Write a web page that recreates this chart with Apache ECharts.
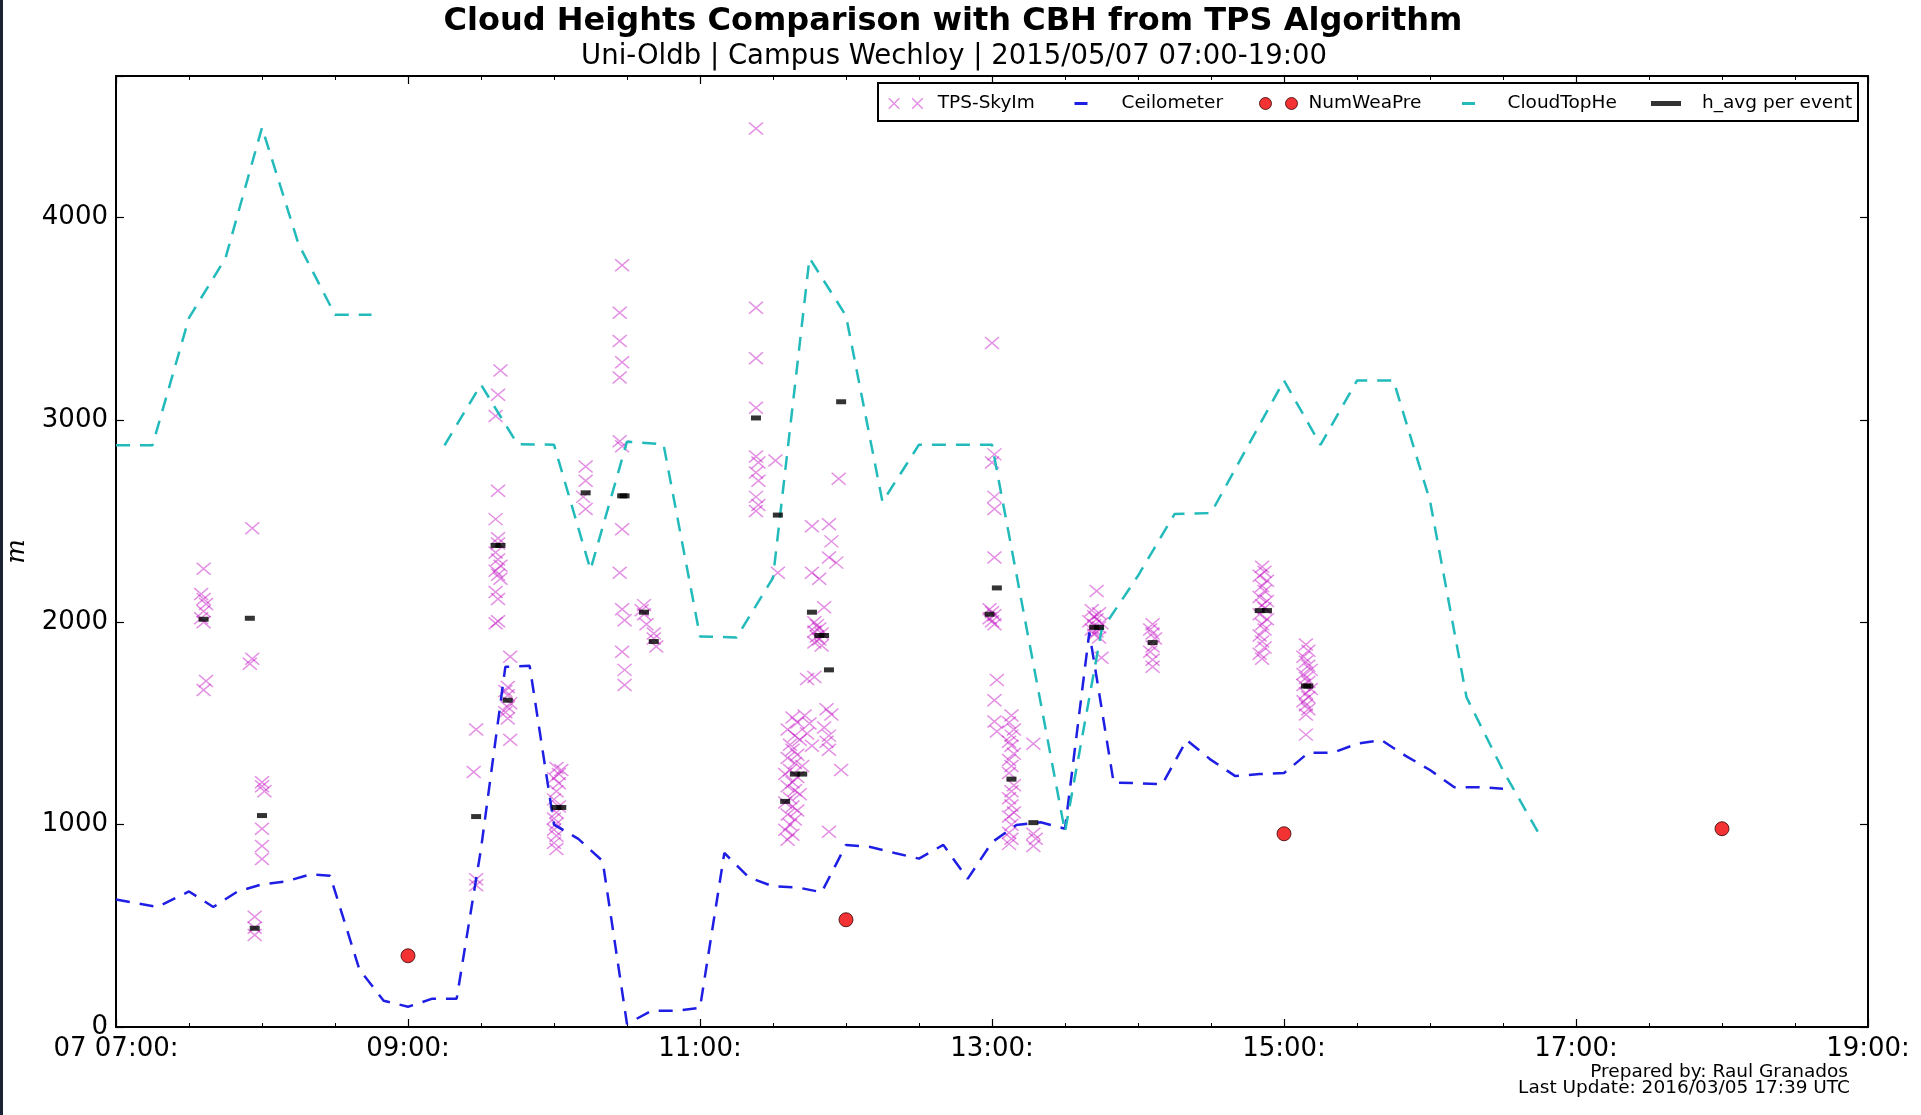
<!DOCTYPE html>
<html>
<head>
<meta charset="utf-8">
<title>Cloud Heights Comparison with CBH from TPS Algorithm</title>
<script src="https://cdn.jsdelivr.net/npm/echarts@6/dist/echarts.min.js"></script>
<style>
  html, body { margin: 0; padding: 0; background: #fff; }
  #chart { width: 1921px; height: 1115px; }
</style>
</head>
<body>
<div id="chart"></div>
<script>
// Times are clock times "HH:MM" on 2015/05/07, heights in metres.
const startHour = 7;
const hourTicks = ['07 07:00:', '09:00:', '11:00:', '13:00:', '15:00:', '17:00:', '19:00:'];
const heightTicks = [0, 1000, 2000, 3000, 4000];

// Ceilometer cloud base height
const ceilometer = [
  ['07:00', 630], ['07:17', 593], ['07:30', 670], ['07:40', 593], ['07:50', 670],
  ['08:00', 705], ['08:10', 720], ['08:20', 755], ['08:28', 748], ['08:40', 285],
  ['08:50', 130], ['09:00', 100], ['09:10', 140], ['09:20', 140], ['09:30', 880],
  ['09:40', 1780], ['09:50', 1785], ['10:00', 1000], ['10:10', 930], ['10:20', 820],
  ['10:30', 15], ['10:40', 80], ['10:50', 80], ['11:00', 95], ['11:10', 860],
  ['11:20', 740], ['11:30', 695], ['11:40', 690], ['11:50', 666], ['12:00', 900],
  ['12:10', 890], ['12:20', 860], ['12:30', 832], ['12:40', 900], ['12:50', 732],
  ['13:00', 913], ['13:10', 998], ['13:20', 1012], ['13:30', 980], ['13:40', 1950],
  ['13:50', 1207], ['14:00', 1205], ['14:10', 1200], ['14:20', 1418], ['14:30', 1320],
  ['14:40', 1240], ['14:50', 1250], ['15:00', 1255], ['15:10', 1355], ['15:20', 1355],
  ['15:30', 1400], ['15:40', 1418], ['15:50', 1340], ['16:00', 1270], ['16:10', 1185],
  ['16:20', 1185], ['16:30', 1178]
];

// Cloud top height (missing between the two runs)
const cloudTopHe = [
  ['07:00', 2875], ['07:15', 2875], ['07:30', 3505], ['07:45', 3800], ['08:00', 4445],
  ['08:15', 3870], ['08:30', 3520], ['08:45', 3520], ['09:00', null],
  ['09:15', 2875], ['09:30', 3175], ['09:45', 2880], ['10:00', 2878], ['10:15', 2260],
  ['10:30', 2893], ['10:45', 2880], ['11:00', 1930], ['11:15', 1925], ['11:30', 2220],
  ['11:45', 3800], ['12:00', 3515], ['12:15', 2595], ['12:30', 2878], ['13:00', 2878],
  ['13:30', 965], ['13:45', 1960], ['14:00', 2230], ['14:15', 2535], ['14:30', 2540],
  ['15:00', 3195], ['15:15', 2877], ['15:30', 3195], ['15:45', 3195], ['16:00', 2600],
  ['16:15', 1630], ['16:30', 1268], ['16:45', 950]
];

// Numerical weather prediction cloud base
const numWeaPre = [['09:00', 352], ['12:00', 530], ['15:00', 955], ['18:00', 980]];

// Cloud base heights from the sky imager pair (TPS algorithm)
const tpsSkyIm = [
  ['07:36', 2265], ['07:35', 2140], ['07:36', 2115], ['07:37', 2090], ['07:36', 2055],
  ['07:35', 2020], ['07:36', 2000], ['07:37', 1710], ['07:36', 1665],
  ['07:56', 2465], ['07:56', 1820], ['07:55', 1795],
  ['07:57', 545], ['07:57', 490], ['07:57', 455],
  ['08:00', 1210], ['08:00', 1190], ['08:01', 1165], ['08:00', 980], ['08:00', 895], ['08:00', 830],
  ['09:28', 1470], ['09:27', 1260], ['09:28', 730], ['09:28', 700],
  ['09:38', 3245], ['09:37', 3125], ['09:36', 3020], ['09:37', 2650], ['09:36', 2510],
  ['09:37', 2415], ['09:37', 2390], ['09:36', 2345], ['09:37', 2310], ['09:38', 2280],
  ['09:36', 2255], ['09:37', 2235], ['09:38', 2215], ['09:36', 2150], ['09:37', 2115],
  ['09:37', 2005], ['09:36', 1995],
  ['09:42', 1830], ['09:41', 1680], ['09:40', 1660], ['09:41', 1640], ['09:42', 1600],
  ['09:41', 1580], ['09:40', 1555], ['09:41', 1525], ['09:42', 1420],
  ['10:01', 1280], ['10:03', 1270], ['10:02', 1250], ['10:00', 1230], ['10:02', 1205],
  ['10:01', 1165], ['10:00', 1125], ['10:02', 1090], ['10:01', 1060], ['10:00', 1030],
  ['10:01', 1005], ['10:00', 975], ['10:01', 945], ['10:00', 910], ['10:01', 880],
  ['10:13', 2770], ['10:13', 2700], ['10:12', 2620], ['10:13', 2560],
  ['10:28', 3765], ['10:27', 3530], ['10:27', 3390], ['10:28', 3285], ['10:27', 3210],
  ['10:27', 2895], ['10:28', 2870], ['10:28', 2460], ['10:27', 2245], ['10:28', 2065],
  ['10:29', 2010], ['10:28', 1855], ['10:29', 1765], ['10:29', 1690],
  ['10:37', 2085], ['10:36', 2060], ['10:37', 2040], ['10:38', 1990],
  ['10:41', 1945], ['10:41', 1920], ['10:42', 1880],
  ['11:23', 4440], ['11:23', 3555], ['11:23', 3305], ['11:23', 3060], ['11:23', 2820],
  ['11:24', 2790], ['11:23', 2740], ['11:24', 2700], ['11:23', 2620], ['11:24', 2580],
  ['11:23', 2550],
  ['11:31', 2800], ['11:32', 2245],
  ['11:38', 1530], ['11:40', 1505], ['11:36', 1470], ['11:39', 1440], ['11:41', 1420],
  ['11:37', 1395], ['11:38', 1370], ['11:40', 1345], ['11:36', 1330], ['11:39', 1305],
  ['11:42', 1290], ['11:37', 1270], ['11:35', 1250], ['11:40', 1235], ['11:38', 1210],
  ['11:36', 1190], ['11:39', 1170], ['11:41', 1150], ['11:37', 1130], ['11:35', 1110],
  ['11:38', 1090], ['11:40', 1070], ['11:36', 1050], ['11:39', 1025], ['11:37', 1000],
  ['11:35', 975], ['11:38', 950], ['11:36', 925],
  ['11:46', 2475], ['11:46', 2245], ['11:49', 2215], ['11:51', 2075], ['11:47', 2000],
  ['11:48', 1985], ['11:49', 1970], ['11:47', 1955], ['11:50', 1945], ['11:48', 1930],
  ['11:49', 1915], ['11:47', 1900], ['11:50', 1885], ['11:44', 1720], ['11:47', 1730],
  ['11:43', 1540], ['11:45', 1500], ['11:44', 1450], ['11:46', 1390],
  ['11:53', 2485], ['11:54', 2400], ['11:53', 2320], ['11:56', 2295], ['11:52', 1570],
  ['11:54', 1545], ['11:51', 1480], ['11:53', 1440], ['11:52', 1410], ['11:53', 1370],
  ['11:53', 965],
  ['11:57', 2710], ['11:58', 1270],
  ['13:00', 3380], ['13:01', 2830], ['13:00', 2790], ['13:01', 2620], ['13:01', 2560],
  ['13:01', 2320], ['12:59', 2065], ['13:00', 2050], ['13:01', 2035], ['12:59', 2020],
  ['13:00', 2005], ['13:01', 1990], ['13:02', 1715], ['13:01', 1615], ['13:01', 1510],
  ['13:02', 1460],
  ['13:08', 1540], ['13:07', 1505], ['13:09', 1470], ['13:08', 1440], ['13:07', 1410],
  ['13:08', 1390], ['13:09', 1350], ['13:07', 1320], ['13:08', 1290], ['13:07', 1255],
  ['13:09', 1195], ['13:08', 1165], ['13:07', 1130], ['13:08', 1095], ['13:09', 1060],
  ['13:07', 1040], ['13:08', 1000], ['13:07', 960], ['13:08', 930], ['13:07', 905],
  ['13:17', 1400], ['13:17', 955], ['13:18', 930], ['13:17', 895],
  ['13:43', 2155], ['13:41', 2060], ['13:44', 2045], ['13:42', 2030], ['13:43', 2015],
  ['13:40', 2005], ['13:45', 1995], ['13:42', 1985], ['13:44', 1975], ['13:41', 1965],
  ['13:43', 1955], ['13:42', 1940], ['13:44', 1925], ['13:45', 1825],
  ['14:06', 1990], ['14:05', 1965], ['14:06', 1945], ['14:07', 1920], ['14:06', 1880],
  ['14:05', 1855], ['14:06', 1815], ['14:06', 1780],
  ['14:51', 2275], ['14:52', 2250], ['14:50', 2230], ['14:53', 2205], ['14:51', 2180],
  ['14:52', 2155], ['14:50', 2125], ['14:53', 2105], ['14:51', 2085], ['14:52', 2070],
  ['14:50', 2040], ['14:53', 2015], ['14:51', 1990], ['14:52', 1965], ['14:50', 1935],
  ['14:51', 1905], ['14:52', 1875], ['14:50', 1845], ['14:51', 1820],
  ['15:09', 1890], ['15:10', 1860], ['15:08', 1830], ['15:09', 1805], ['15:10', 1785],
  ['15:11', 1765], ['15:08', 1745], ['15:09', 1725], ['15:10', 1705], ['15:08', 1690],
  ['15:11', 1670], ['15:09', 1650], ['15:10', 1630], ['15:08', 1610], ['15:09', 1590],
  ['15:10', 1570], ['15:09', 1545], ['15:09', 1445]
];

// Mean height of each sky-imager event
const hAvgPerEvent = [
  ['07:36', 2015], ['07:55', 2020], ['07:57', 488], ['08:00', 1045],
  ['09:28', 1040], ['09:36', 2380], ['09:38', 2380], ['09:41', 1615],
  ['10:01', 1085], ['10:03', 1085], ['10:13', 2640], ['10:28', 2625], ['10:29', 2625],
  ['10:37', 2050], ['10:41', 1905], ['11:23', 3010], ['11:32', 2530],
  ['11:35', 1115], ['11:39', 1250], ['11:42', 1250], ['11:46', 2050],
  ['11:49', 1935], ['11:51', 1935], ['11:53', 1765], ['11:58', 3090],
  ['12:59', 2040], ['13:02', 2170], ['13:08', 1225], ['13:17', 1010],
  ['13:42', 1975], ['13:44', 1975], ['14:06', 1900], ['14:50', 2058], ['14:53', 2058],
  ['15:09', 1685], ['15:10', 1685]
];

// minutes after the start of the window
function toX(t) {
  const [h, m] = t.split(':').map(Number);
  return (h - startHour) * 60 + m;
}
function toPoints(rows) {
  return rows.map(([t, v]) => [toX(t), v === null ? '-' : v]);
}

const FONT = '"DejaVu Sans", "Liberation Sans", sans-serif';
const TPS_COLOR = 'rgba(191,0,191,0.55)';
const BLUE = '#1e1ee4';
const CYAN = '#22baba';
const RED = '#f00000';
const X_PATH = 'path://M0,0L10,10M10,0L0,10';
const X2_PATH = 'path://M0,0L10,10M10,0L0,10M22,0L32,10M32,0L22,10';
const DOT2_PATH = 'path://M0,6A6,6,0,1,1,12,6A6,6,0,1,1,0,6ZM26,6A6,6,0,1,1,38,6A6,6,0,1,1,26,6Z';

function legendText(pad) {
  return { fontFamily: FONT, fontSize: 18.5, color: '#000', lineHeight: 18, padding: [0, 0, 0, pad] };
}

const xAxisBase = {
  type: 'value', min: 0, max: (19 - startHour) * 60, interval: 120,
  axisLine: { show: true, onZero: false, lineStyle: { color: '#000', width: 2 } },
  axisTick: { show: true, inside: true, length: 8, lineStyle: { color: '#000', width: 1.2 } },
  minorTick: { show: true, splitNumber: 4, length: 4, lineStyle: { color: '#000', width: 1 } },
  splitLine: { show: false },
  minorSplitLine: { show: false }
};
const yAxisBase = {
  type: 'value', min: 0, max: 4700, interval: 1000,
  axisLine: { show: true, onZero: false, lineStyle: { color: '#000', width: 2 } },
  axisTick: { show: true, inside: true, length: 8, lineStyle: { color: '#000', width: 1.2 } },
  splitLine: { show: false }
};

const chart = echarts.init(document.getElementById('chart'), null, { renderer: 'canvas', width: 1921, height: 1115 });

chart.setOption({
  animation: false,
  backgroundColor: '#ffffff',
  grid: { left: 116, right: 53, top: 76, bottom: 88, containLabel: false, outerBoundsMode: 'none' },
  xAxis: [
    Object.assign({}, xAxisBase, {
      position: 'bottom',
      axisLabel: {
        color: '#000', fontFamily: FONT, fontSize: 26, margin: 9,
        formatter: v => hourTicks[v / 120] || ''
      }
    }),
    Object.assign({}, xAxisBase, { position: 'top', axisLabel: { show: false } })
  ],
  yAxis: [
    Object.assign({}, yAxisBase, {
      position: 'left',
      name: 'm', nameLocation: 'middle', nameGap: 86, nameRotate: 90,
      nameTextStyle: { fontFamily: '"DejaVu Serif", serif', fontStyle: 'italic', fontSize: 26, color: '#000' },
      axisLabel: {
        color: '#000', fontFamily: FONT, fontSize: 26, margin: 8,
        formatter: v => heightTicks.includes(v) ? String(v) : ''
      }
    }),
    Object.assign({}, yAxisBase, { position: 'right', axisLabel: { show: false } })
  ],
  legend: [
    { data: ['TPS-SkyIm'], left: 888, top: 94, padding: 0, selectedMode: false,
      icon: X2_PATH, itemWidth: 34, itemHeight: 11,
      itemStyle: { color: 'rgba(0,0,0,0)', borderColor: TPS_COLOR, borderWidth: 1.5 },
      textStyle: legendText(10) },
    { data: ['Ceilometer'], left: 1044, top: 94, padding: 0, selectedMode: false,
      itemWidth: 71, itemHeight: 10,
      lineStyle: { color: BLUE, width: 3, type: [0, 29, 13, 29] },
      itemStyle: { color: 'rgba(0,0,0,0)', borderWidth: 0, opacity: 0 },
      textStyle: legendText(0) },
    { data: ['NumWeaPre'], left: 1259, top: 94, padding: 0, selectedMode: false,
      icon: DOT2_PATH, itemWidth: 38, itemHeight: 12,
      itemStyle: { color: RED, borderColor: '#300', borderWidth: 1 },
      textStyle: legendText(6) },
    { data: ['CloudTopHe'], left: 1433, top: 94, padding: 0, selectedMode: false,
      itemWidth: 68, itemHeight: 10,
      lineStyle: { color: CYAN, width: 3, type: [0, 27.5, 13, 27.5] },
      itemStyle: { color: 'rgba(0,0,0,0)', borderWidth: 0, opacity: 0 },
      textStyle: legendText(0) },
    { data: ['h_avg per event'], left: 1651, top: 94, padding: 0, selectedMode: false,
      icon: 'rect', itemWidth: 30, itemHeight: 5,
      itemStyle: { color: '#000', borderWidth: 0 },
      textStyle: legendText(16) }
  ],
  graphic: [
    // thin dark edge on the left of the figure
    { type: 'rect', left: 0, top: 0, z: 10, shape: { width: 3, height: 1115 }, style: { fill: '#1c2233' } },
    { type: 'text', x: 953, y: 22, z: 10,
      style: { text: 'Cloud Heights Comparison with CBH from TPS Algorithm', font: 'bold 32px ' + FONT,
               fill: '#000', align: 'center', verticalAlign: 'middle' } },
    { type: 'text', x: 954, y: 57, z: 10,
      style: { text: 'Uni-Oldb | Campus Wechloy | 2015/05/07 07:00-19:00', font: '27.5px ' + FONT,
               fill: '#000', align: 'center', verticalAlign: 'middle' } },
    // legend frame
    { type: 'rect', z: 3, shape: { x: 878, y: 83, width: 980, height: 38 },
      style: { fill: '#fff', stroke: '#000', lineWidth: 2 } },
    { type: 'text', x: 1848, y: 1072, z: 10,
      style: { text: 'Prepared by: Raul Granados', font: '18.5px ' + FONT,
               fill: '#000', align: 'right', verticalAlign: 'middle' } },
    { type: 'text', x: 1850, y: 1088, z: 10,
      style: { text: 'Last Update: 2016/03/05 17:39 UTC', font: '18.5px ' + FONT,
               fill: '#000', align: 'right', verticalAlign: 'middle' } }
  ],
  series: [
    { name: 'TPS-SkyIm', type: 'scatter', data: toPoints(tpsSkyIm), silent: true,
      symbol: X_PATH, symbolSize: [14, 12],
      itemStyle: { color: 'rgba(0,0,0,0)', borderColor: TPS_COLOR, borderWidth: 1.5 } },
    { name: 'Ceilometer', type: 'line', data: toPoints(ceilometer), silent: true,
      symbol: 'none', connectNulls: false,
      lineStyle: { color: BLUE, width: 2.5, type: [14, 10] } },
    { name: 'NumWeaPre', type: 'scatter', data: toPoints(numWeaPre), silent: true,
      symbol: 'circle', symbolSize: 14,
      itemStyle: { color: RED, borderColor: '#300', borderWidth: 1 } },
    { name: 'CloudTopHe', type: 'line', data: toPoints(cloudTopHe), silent: true,
      symbol: 'none', connectNulls: false,
      lineStyle: { color: CYAN, width: 2.5, type: [14, 10] } },
    { name: 'h_avg per event', type: 'scatter', data: toPoints(hAvgPerEvent), silent: true,
      symbol: 'rect', symbolSize: [10, 5], z: 3,
      itemStyle: { color: '#000' } }
  ]
});
</script>
</body>
</html>
